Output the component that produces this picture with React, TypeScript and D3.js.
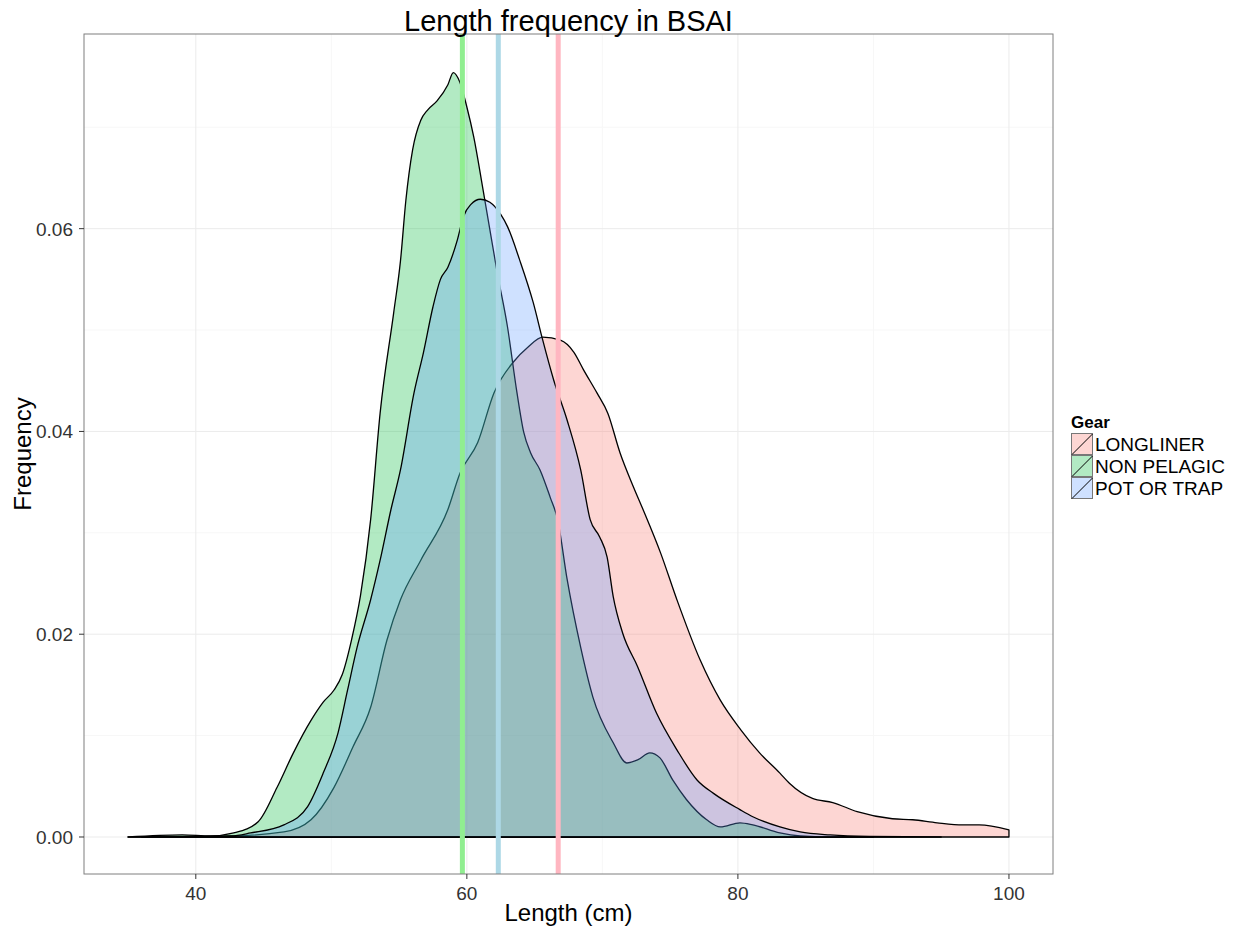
import React from 'react';
import { scaleLinear, area as d3Area, curveMonotoneX } from 'd3';

// [length (cm), density]
const longliner: [number, number][] = [
  [35.0, 0], [42.6, 0.0001], [46.5, 0.0005], [48.5, 0.0017], [50.2, 0.0049],
  [51.6, 0.0089], [52.9, 0.0128], [54.1, 0.0194], [55.1, 0.0234], [56.6, 0.0273],
  [58.6, 0.0323], [59.5, 0.0359], [60.8, 0.0389], [62.0, 0.0438], [63.4, 0.0468],
  [64.5, 0.0483], [65.6, 0.0493], [66.9, 0.049], [67.9, 0.0478], [68.6, 0.0461],
  [69.6, 0.0438], [70.4, 0.0418], [71.3, 0.0379], [72.3, 0.0345], [73.0, 0.0323],
  [74.3, 0.028], [75.5, 0.0234], [77.2, 0.0175], [78.7, 0.0135], [80.2, 0.0106],
  [81.6, 0.0083], [83.1, 0.0063], [83.8, 0.0053], [85.5, 0.0038], [87.0, 0.0034],
  [88.8, 0.0025], [91.4, 0.0018], [92.9, 0.0017], [94.7, 0.0014], [96.6, 0.0012],
  [97.8, 0.0012], [100.0, 0.0007],
];

const nonPelagic: [number, number][] = [
  [35.0, 0], [39.0, 0.0002], [41.1, 0.0001], [42.8, 0.0004], [44.6, 0.0015],
  [46.0, 0.0049], [47.2, 0.0083], [48.5, 0.0115], [49.4, 0.0133], [50.2, 0.0145],
  [50.8, 0.016], [51.5, 0.0195], [52.15, 0.0238], [52.9, 0.0313], [53.6, 0.0418],
  [54.6, 0.0517], [55.1, 0.0568], [55.5, 0.0628], [56.0, 0.0678], [56.6, 0.0707],
  [57.1, 0.0717], [57.8, 0.0726], [58.6, 0.0742], [59.0, 0.0754], [59.5, 0.0744],
  [60.0, 0.072], [60.5, 0.0691], [61.2, 0.0638], [62.25, 0.0556], [63.0, 0.0503],
  [63.7, 0.0438], [64.2, 0.0399], [64.7, 0.0379], [65.4, 0.0362], [66.15, 0.0335],
  [66.7, 0.0313], [67.4, 0.0254], [68.4, 0.0187], [69.3, 0.0138], [70.8, 0.0093],
  [71.8, 0.0073], [72.6, 0.0076], [73.5, 0.0083], [74.25, 0.0078], [75.2, 0.0056],
  [76.2, 0.0037], [77.7, 0.0017], [78.7, 0.001], [80.15, 0.0014], [81.1, 0.0012],
  [83.1, 0.0004], [84.6, 0.0001], [86.8, 0], [90.0, 0],
];

const potOrTrap: [number, number][] = [
  [36.0, 0], [42.6, 0.0001], [44.05, 0.0004], [46.5, 0.0012], [48.25, 0.003],
  [49.4, 0.0063], [50.5, 0.0103], [51.2, 0.0145], [51.9, 0.0187], [52.9, 0.0234],
  [53.6, 0.0273], [54.4, 0.0323], [55.1, 0.0362], [56.1, 0.0438], [56.8, 0.0478],
  [57.5, 0.0523], [58.05, 0.055], [58.6, 0.0562], [59.3, 0.0589], [59.75, 0.0612],
  [60.3, 0.0624], [61.0, 0.0629], [61.7, 0.0626], [62.5, 0.0614], [63.0, 0.0602],
  [63.9, 0.0569], [64.9, 0.0527], [65.6, 0.049], [66.4, 0.0451], [67.4, 0.0411],
  [68.4, 0.0362], [69.1, 0.0313], [69.8, 0.0296], [70.35, 0.0276], [70.8, 0.0237],
  [71.5, 0.0201], [72.6, 0.0168], [74.0, 0.0122], [75.5, 0.0086], [77.0, 0.0056],
  [78.2, 0.0043], [80.15, 0.0027], [81.1, 0.002], [83.1, 0.001], [84.6, 0.0005],
  [86.8, 0.0002], [89.7, 0.00005], [95.0, 0],
];

const gearNames = ['LONGLINER', 'NON PELAGIC', 'POT OR TRAP'];
const gearFill = ['#F8766D', '#00BA38', '#619CFF'];
const gearSeries = [longliner, nonPelagic, potOrTrap];
const gearMean = [66.74, 59.67, 62.32];
const meanColor = ['#FFB6C1', '#90EE90', '#ADD8E6'];

const xTicks = [40, 60, 80, 100];
const xMinor = [50, 70, 90];
const yTicks = [0, 0.02, 0.04, 0.06];
const yMinor = [0.01, 0.03, 0.05, 0.07];

const W = 1233;
const H = 928;
const panel = { left: 84, right: 1053, top: 34, bottom: 874 };
const font = "'Liberation Sans', Arial, sans-serif";

export default function App() {
  const x = scaleLinear().domain([31.75, 103.25]).range([panel.left, panel.right]);
  const y = scaleLinear().domain([-0.00365, 0.0792]).range([panel.bottom, panel.top]);

  const areaGen = d3Area<[number, number]>()
    .x(d => x(d[0]))
    .y0(y(0))
    .y1(d => y(d[1]))
    .curve(curveMonotoneX);

  const pw = panel.right - panel.left;
  const ph = panel.bottom - panel.top;

  return (
    <div style={{ position: 'absolute', left: 0, top: 0, background: '#fff' }}>
      <svg width={W} height={H} style={{ display: 'block', fontFamily: font }}>
        <rect x={0} y={0} width={W} height={H} fill="#fff" />
        <defs>
          <clipPath id="panel-clip">
            <rect x={panel.left} y={panel.top} width={pw} height={ph} />
          </clipPath>
        </defs>

        {/* grid */}
        {xMinor.map(t => (
          <line key={'xm' + t} x1={x(t)} x2={x(t)} y1={panel.top} y2={panel.bottom} stroke="#F7F7F7" strokeWidth={1} />
        ))}
        {yMinor.map(t => (
          <line key={'ym' + t} x1={panel.left} x2={panel.right} y1={y(t)} y2={y(t)} stroke="#F7F7F7" strokeWidth={1} />
        ))}
        {xTicks.map(t => (
          <line key={'xg' + t} x1={x(t)} x2={x(t)} y1={panel.top} y2={panel.bottom} stroke="#EBEBEB" strokeWidth={1} />
        ))}
        {yTicks.map(t => (
          <line key={'yg' + t} x1={panel.left} x2={panel.right} y1={y(t)} y2={y(t)} stroke="#EBEBEB" strokeWidth={1} />
        ))}

        <g clipPath="url(#panel-clip)">
          {gearSeries.map((s, i) => (
            <path
              key={gearNames[i]}
              d={areaGen(s) || ''}
              fill={gearFill[i]}
              fillOpacity={0.3}
              stroke="#000"
              strokeWidth={1.3}
              strokeLinejoin="round"
            />
          ))}
          {gearMean.map((m, i) => (
            <line
              key={'mean' + i}
              x1={x(m)}
              x2={x(m)}
              y1={panel.top}
              y2={panel.bottom}
              stroke={meanColor[i]}
              strokeWidth={5}
            />
          ))}
        </g>

        <rect x={panel.left} y={panel.top} width={pw} height={ph} fill="none" stroke="#7F7F7F" strokeWidth={1} />

        {/* x axis */}
        {xTicks.map(t => (
          <g key={'xt' + t}>
            <line x1={x(t)} x2={x(t)} y1={panel.bottom} y2={panel.bottom + 5} stroke="#333" strokeWidth={1} />
            <text x={x(t)} y={900} textAnchor="middle" fontSize={19} fill="#333">{t}</text>
          </g>
        ))}
        {/* y axis */}
        {yTicks.map(t => (
          <g key={'yt' + t}>
            <line x1={panel.left - 5} x2={panel.left} y1={y(t)} y2={y(t)} stroke="#333" strokeWidth={1} />
            <text x={73} y={y(t) + 7} textAnchor="end" fontSize={19} fill="#333">{t.toFixed(2)}</text>
          </g>
        ))}

        <text x={(panel.left + panel.right) / 2} y={921} textAnchor="middle" fontSize={24} fill="#000">Length (cm)</text>
        <text transform={`translate(31,${(panel.top + panel.bottom) / 2}) rotate(-90)`} textAnchor="middle" fontSize={24} fill="#000">Frequency</text>
        <text x={(panel.left + panel.right) / 2} y={31} textAnchor="middle" fontSize={29} fill="#000">Length frequency in BSAI</text>

        {/* legend */}
        <text x={1071} y={428} fontSize={17} fontWeight="bold" fill="#000">Gear</text>
        {gearNames.map((g, i) => {
          const ky = 433 + i * 22;
          return (
            <g key={'lg' + g}>
              <rect x={1071} y={ky} width={22} height={22} fill="#fff" />
              <rect x={1071.5} y={ky + 0.5} width={21} height={21} fill={gearFill[i]} fillOpacity={0.3} stroke="#777" strokeWidth={1} />
              <line x1={1072} y1={ky + 21.5} x2={1092.5} y2={ky + 1} stroke="#000" strokeWidth={1} />
              <text x={1095} y={ky + 18} fontSize={19} fill="#000">{g}</text>
            </g>
          );
        })}
      </svg>
    </div>
  );
}
